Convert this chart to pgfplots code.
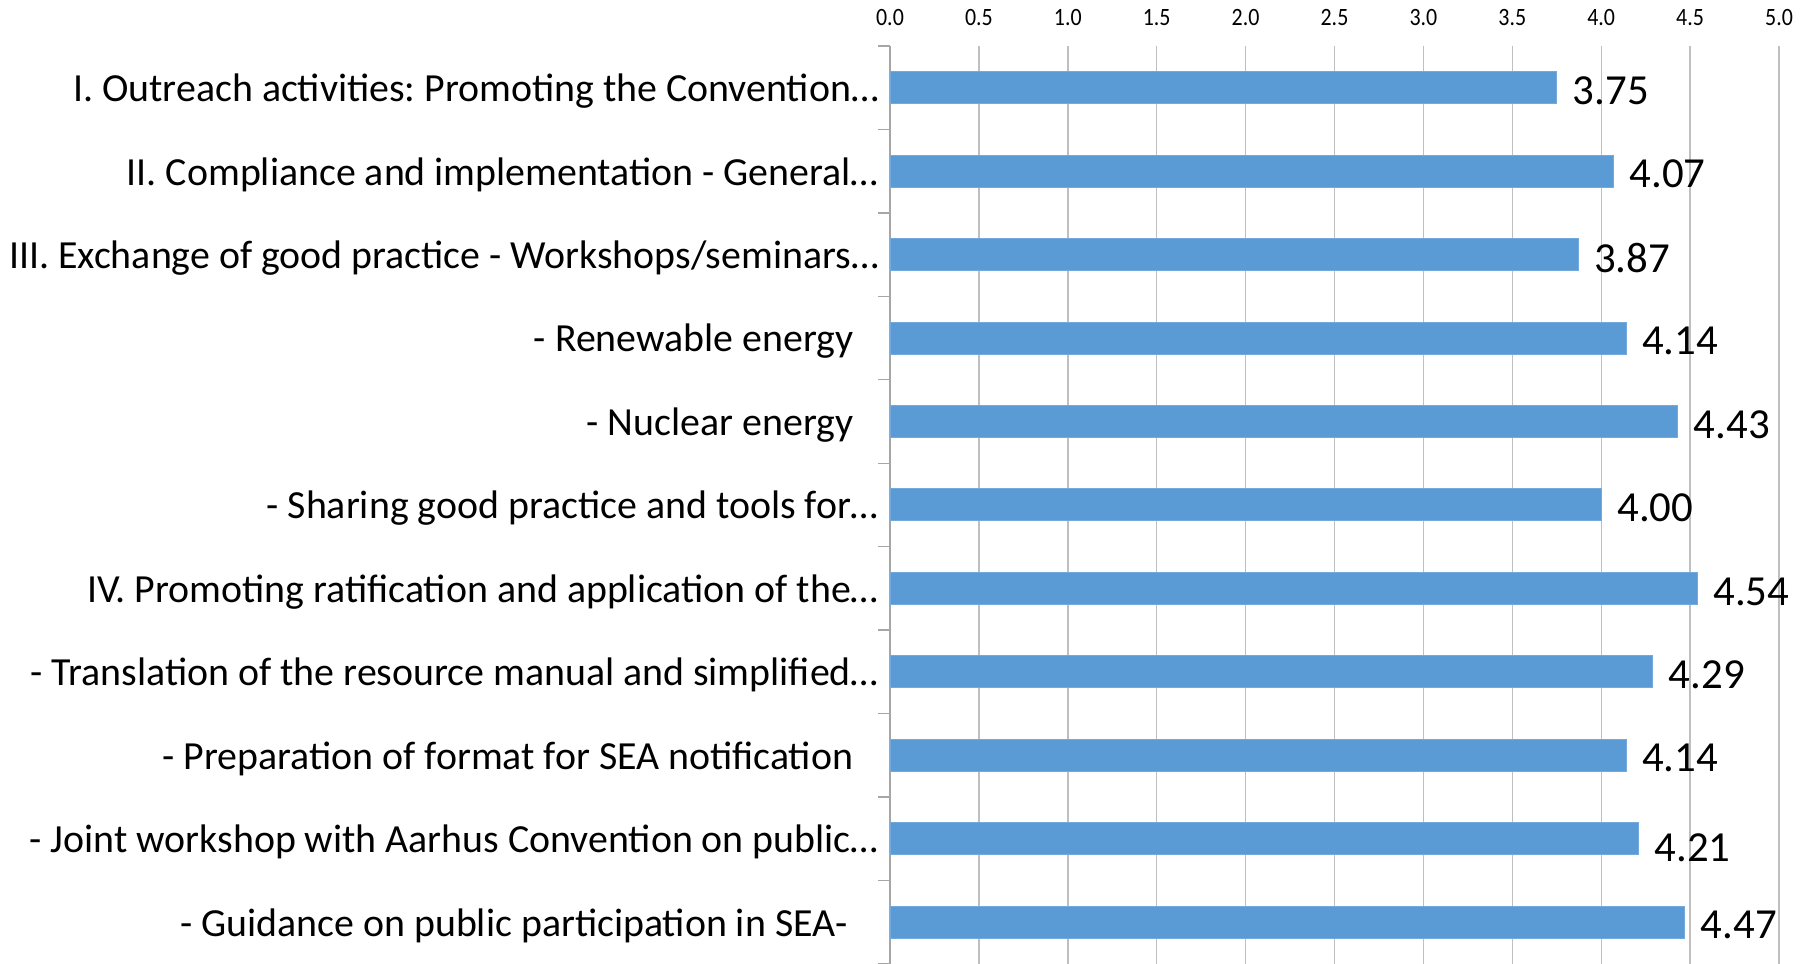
\documentclass[border=0pt]{standalone}
\usepackage{pgfplots}
\usepackage{pgfplotstable}
\pgfplotsset{compat=1.18}
\usepackage{graphicx}
\usepackage{fontspec}
\setmainfont{Carlito}
\definecolor{barblue}{HTML}{5B9BD5}
\definecolor{gridgray}{HTML}{BFBFBF}
\definecolor{axgray}{HTML}{A6A6A6}
\pgfplotstableread{
x y dy
3.75 11 -1.5
4.07 10 -1.5
3.87 9 -1.5
4.14 8 -1.5
4.43 7 -1.5
4.00 6 -1.5
4.54 5 -1.5
4.29 4 -1.5
4.14 3 -1.5
4.21 2 -4.5
4.47 1 -1.5
}\datatable
\begin{document}
\frenchspacing
\begin{tikzpicture}[x=1bp,y=1bp]
\begin{axis}[
  at={(445bp,0bp)}, anchor=south west,
  scale only axis, width=444.5bp, height=459bp,
  xmin=0, xmax=5, ymin=0.5, ymax=11.5,
  clip=false,
  xbar, bar width=16bp,
  axis x line*=top, axis y line*=left,
  x axis line style={draw=none},
  y axis line style={draw=axgray, line width=0.7bp, -},
  xtick={0,0.5,1,1.5,2,2.5,3,3.5,4,4.5,5},
  xmajorgrids, major grid style={draw=gridgray, line width=0.7bp},
  major tick length=0pt, minor tick length=6bp,
  tick align=outside,
  major tick style={draw=none},
  minor ytick={0.5,1.5,...,11.5},
  minor y tick style={draw=axgray, line width=0.7bp},
  xticklabel style={inner sep=0pt, yshift=10bp, font=\fontsize{12.5}{14}\selectfont},
  xticklabel={\scalebox{0.88}[1]{\pgfmathprintnumber[fixed,fixed zerofill,precision=1]{\tick}}},
  ytick={1,...,11},
  yticklabels={
    {- Guidance on public participation in SEA-\hspace*{15.5bp}},
    {- Joint workshop with Aarhus Convention on public…},
    {- Preparation of format for SEA notification\hspace*{12.7bp}},
    {- Translation of the resource manual and simplified…},
    {IV. Promoting ratification and application of the…},
    {- Sharing good practice and tools for…},
    {- Nuclear energy\hspace*{12.7bp}},
    {- Renewable energy\hspace*{12.7bp}},
    {III. Exchange of good practice - Workshops/seminars…},
    {II. Compliance and implementation - General…},
    {I. Outreach activities: Promoting the Convention…}
  },
  yticklabel style={inner sep=0pt, xshift=-5.5bp, yshift=-1.7bp, anchor=east, font=\fontsize{20}{24}\selectfont},
  /pgf/number format/assume math mode=true,
]
\addplot[fill=barblue, draw=barblue!85!white, line width=0.5bp,
  nodes near coords,
  visualization depends on={\thisrow{dy} \as \dy},
  nodes near coords style={anchor=west, inner sep=0pt, xshift=7.8bp, yshift=\dy pt, text=black,
    font=\fontsize{21.5}{24}\selectfont,
    /pgf/number format/.cd, fixed, fixed zerofill, precision=2},
  ] table[x=x, y=y] {\datatable};
\end{axis}
\pgfresetboundingbox
\path[use as bounding box] (0,0) rectangle (904.5,482);
\end{tikzpicture}
\end{document}
